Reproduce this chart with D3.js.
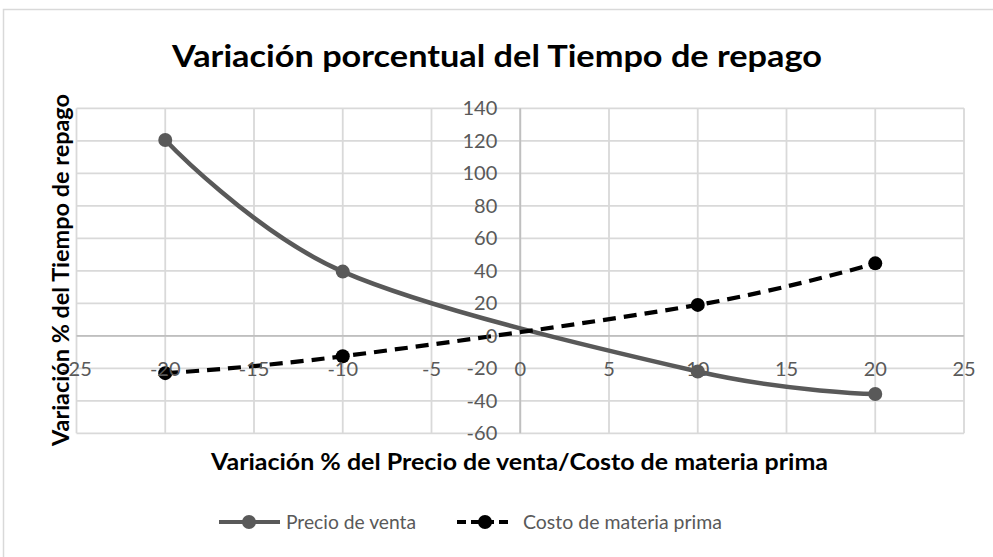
<!DOCTYPE html>
<html>
<head>
<meta charset="utf-8">
<script src="https://cdn.jsdelivr.net/npm/d3@7"></script>
<style>
  html, body { margin: 0; padding: 0; background: #ffffff; }
  svg { display: block; font-family: Lato, "Open Sans", sans-serif; }
</style>
</head>
<body>
<svg id="chart" width="993" height="557"></svg>
<script>
// Sensitivity of the payback time to price / raw-material cost changes
const xValues = [-20, -10, 10, 20];
const precioVenta = [120.5, 39.5, -22, -35.8];
const costoMateria = [-23, -12.6, 19, 44.6];
const xTicks = [-25, -20, -15, -10, -5, 0, 5, 10, 15, 20, 25];
const yTicks = [-60, -40, -20, 0, 20, 40, 60, 80, 100, 120, 140];
const seriesNames = ["Precio de venta", "Costo de materia prima"];

const svg = d3.select("#chart");

// outer chart frame
svg.append("rect")
  .attr("x", 3.5).attr("y", 9.5)
  .attr("width", 994).attr("height", 560)
  .attr("fill", "#fff").attr("stroke", "#d9d9d9").attr("stroke-width", 1.5);

const x = d3.scaleLinear().domain([-25, 25]).range([76.5, 964]);
const y = d3.scaleLinear().domain([-60, 140]).range([433.3, 108.3]);

// gridlines
const grid = svg.append("g");
grid.selectAll("line.v").data(xTicks).join("line")
  .attr("x1", d => x(d)).attr("x2", d => x(d))
  .attr("y1", y(140)).attr("y2", y(-60))
  .attr("stroke", "#d9d9d9").attr("stroke-width", 1.8);
grid.selectAll("line.h").data(yTicks).join("line")
  .attr("y1", d => y(d)).attr("y2", d => y(d))
  .attr("x1", x(-25)).attr("x2", x(25))
  .attr("stroke", "#d9d9d9").attr("stroke-width", 1.8);

// axes crossing at the origin
svg.append("line")
  .attr("x1", x(-25)).attr("x2", x(25)).attr("y1", y(0)).attr("y2", y(0))
  .attr("stroke", "#bfbfbf").attr("stroke-width", 1.8);
svg.append("line")
  .attr("x1", x(0)).attr("x2", x(0)).attr("y1", y(140)).attr("y2", y(-60))
  .attr("stroke", "#bfbfbf").attr("stroke-width", 1.8);

const curve = d3.curveCardinal.tension(0);
const lineGen = d3.line().x(d => x(d[0])).y(d => y(d[1])).curve(curve);

const s1 = xValues.map((v, i) => [v, precioVenta[i]]);
const s2 = xValues.map((v, i) => [v, costoMateria[i]]);

// Precio de venta: solid grey
svg.append("path").datum(s1)
  .attr("d", lineGen).attr("fill", "none")
  .attr("stroke", "#595959").attr("stroke-width", 4.5).attr("stroke-linecap", "round");
svg.selectAll("circle.p").data(s1).join("circle")
  .attr("cx", d => x(d[0])).attr("cy", d => y(d[1])).attr("r", 7)
  .attr("fill", "#595959");

// Costo de materia prima: dashed black
svg.append("path").datum(s2)
  .attr("d", lineGen).attr("fill", "none")
  .attr("stroke", "#000").attr("stroke-width", 4.2)
  .attr("stroke-dasharray", "13,8");
svg.selectAll("circle.c").data(s2).join("circle")
  .attr("cx", d => x(d[0])).attr("cy", d => y(d[1])).attr("r", 7)
  .attr("fill", "#000");

// tick labels
const tickFont = 20;
svg.append("g").selectAll("text").data(xTicks).join("text")
  .attr("x", d => x(d)).attr("y", y(0) + 40)
  .attr("text-anchor", "middle")
  .attr("font-size", tickFont).attr("fill", "#595959")
  .text(d => d);
svg.append("g").selectAll("text").data(yTicks).join("text")
  .attr("x", x(0) - 23).attr("y", d => y(d) + 7)
  .attr("text-anchor", "end")
  .attr("font-size", tickFont).attr("fill", "#595959")
  .text(d => d);

// titles
svg.append("text")
  .attr("x", 497).attr("y", 67)
  .attr("text-anchor", "middle")
  .attr("font-size", 31).attr("font-weight", "bold").attr("fill", "#000")
  .attr("textLength", 650).attr("lengthAdjust", "spacingAndGlyphs")
  .text("Variación porcentual del Tiempo de repago");

svg.append("text")
  .attr("x", 519.5).attr("y", 470)
  .attr("text-anchor", "middle")
  .attr("font-size", 22).attr("font-weight", "bold").attr("fill", "#000")
  .attr("textLength", 617).attr("lengthAdjust", "spacingAndGlyphs")
  .text("Variación % del Precio de venta/Costo de materia prima");

svg.append("text")
  .attr("transform", "translate(69,270) rotate(-90)")
  .attr("text-anchor", "middle")
  .attr("font-size", 22).attr("font-weight", "bold").attr("fill", "#000")
  .attr("textLength", 352).attr("lengthAdjust", "spacingAndGlyphs")
  .text("Variación % del Tiempo de repago");

// legend
const legend = svg.append("g");
const legendItems = [
  { name: seriesNames[0], x0: 219, x1: 280, cx: 249, tx: 286, tw: 130, color: "#595959", dash: null },
  { name: seriesNames[1], x0: 457, x1: 512, cx: 485, tx: 523, tw: 199, color: "#000", dash: "9,5" }
];
legendItems.forEach(it => {
  legend.append("line")
    .attr("x1", it.x0).attr("x2", it.x1).attr("y1", 522).attr("y2", 522)
    .attr("stroke", it.color).attr("stroke-width", 4.2)
    .attr("stroke-dasharray", it.dash);
  legend.append("circle").attr("cx", it.cx).attr("cy", 522).attr("r", 7).attr("fill", it.color);
  legend.append("text")
    .attr("x", it.tx).attr("y", 529)
    .attr("font-size", 20).attr("fill", "#595959")
    .attr("textLength", it.tw).attr("lengthAdjust", "spacingAndGlyphs")
    .text(it.name);
});
</script>
</body>
</html>
